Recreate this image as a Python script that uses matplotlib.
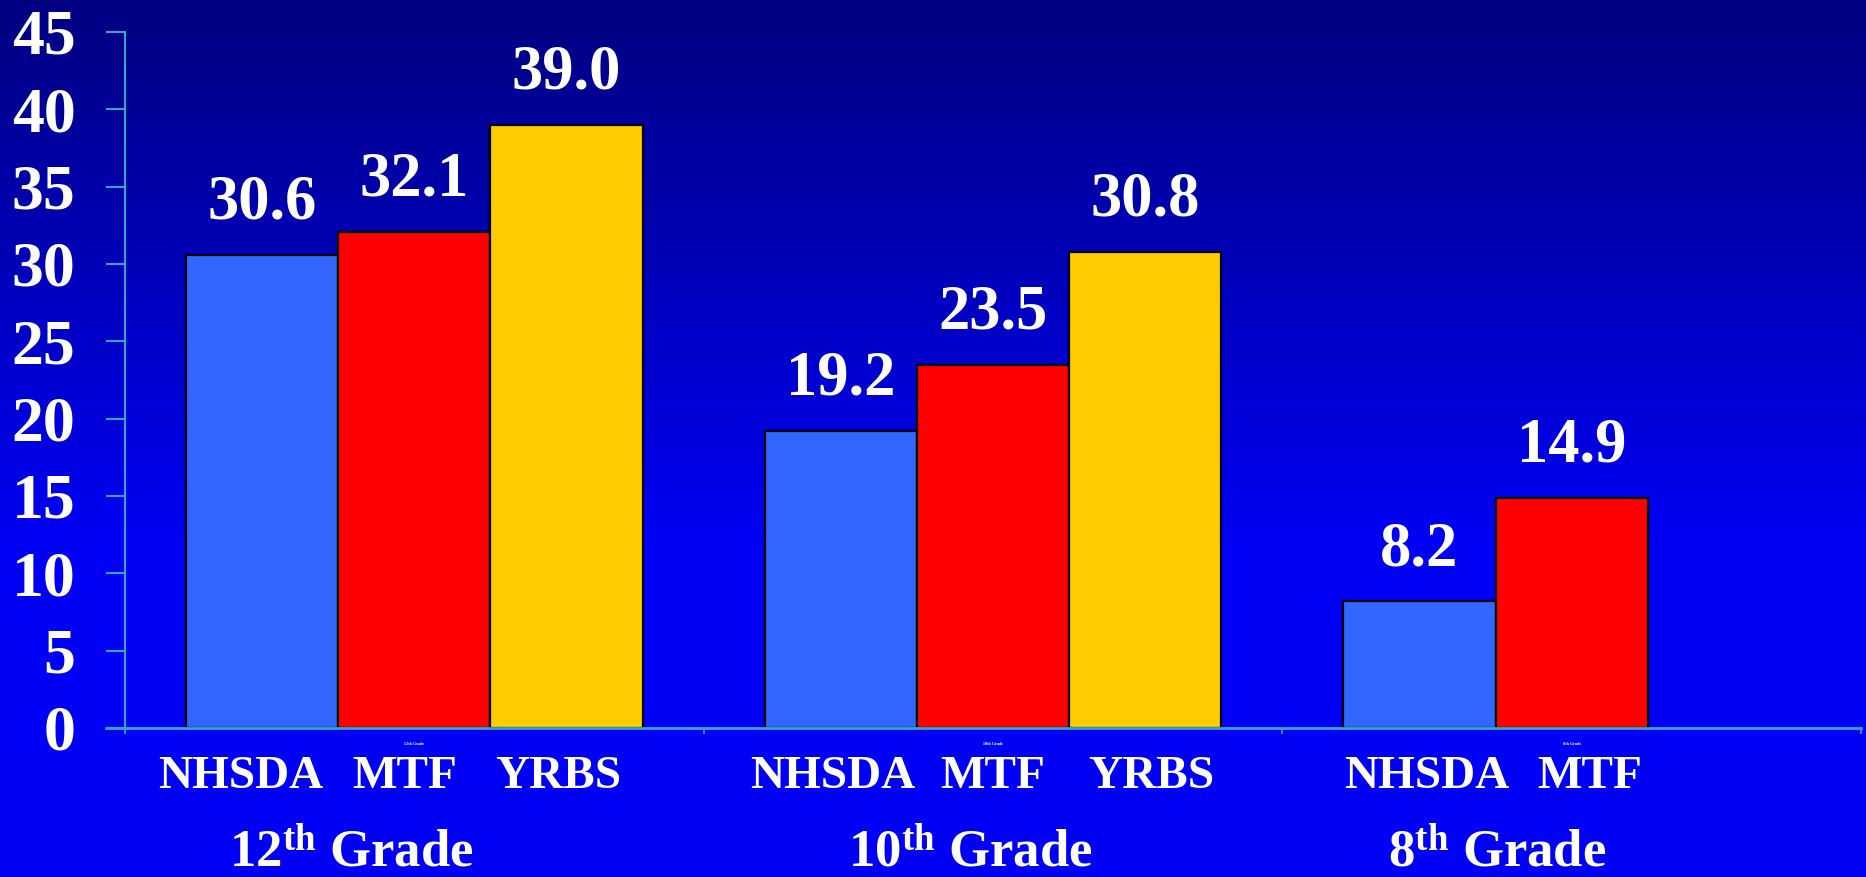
import numpy as np
import matplotlib
matplotlib.use("Agg")
import matplotlib.pyplot as plt

# ---- data ----
groups = ["12th Grade", "10th Grade", "8th Grade"]
series = ["NHSDA", "MTF", "YRBS"]
nhsda = [30.6, 19.2, 8.2]
mtf = [32.1, 23.5, 14.9]
yrbs = [39.0, 30.8, None]
yticks = [0, 5, 10, 15, 20, 25, 30, 35, 40, 45]
group_titles = [r"12$^{\mathrm{th}}$ Grade", r"10$^{\mathrm{th}}$ Grade", r"8$^{\mathrm{th}}$ Grade"]

colors = ["#3366FF", "#FF0000", "#FFCC00"]
axis_col = "#33A6C8"
# horizontal pixel nudges of the category words (series x group)
word_nudge = [[-21, -8, 7], [-10, 0, 18], [-8, 6, 0]]

plt.rcParams["font.family"] = ["Liberation Serif", "DejaVu Serif"]
plt.rcParams["font.weight"] = "bold"
plt.rcParams["mathtext.fontset"] = "custom"
plt.rcParams["mathtext.rm"] = "Liberation Serif:bold"
plt.rcParams["mathtext.bf"] = "Liberation Serif:bold"
plt.rcParams["mathtext.it"] = "Liberation Serif:bold"

W, H = 1866, 877
fig = plt.figure(figsize=(W / 100, H / 100), dpi=100)

# background gradient
bg = fig.add_axes([0, 0, 1, 1])
yy = np.arange(H)
b = np.clip(128 + 0.215 * yy, 0, 245) / 255.0
img = np.zeros((H, 2, 3))
img[:, :, 2] = b[:, None]
bg.imshow(img, aspect="auto", extent=[0, 1, 0, 1], origin="upper")
bg.set_axis_off()

ax = fig.add_axes([125 / W, 1 - 728 / H, (1861 - 125) / W, (728 - 32) / H])
ax.patch.set_alpha(0)

bw = 0.263
offs = [-bw, 0, bw]
x = np.arange(len(groups))
allvals = [nhsda, mtf, yrbs]
for si, vals in enumerate(allvals):
    for gi, v in enumerate(vals):
        if v is None:
            continue
        xp = x[gi] + offs[si]
        ax.bar(xp, v, width=bw, color=colors[si], edgecolor="black", linewidth=1.6, zorder=3)
        ax.annotate(f"{v:.1f}", (xp, v), xytext=(0, 26), textcoords="offset points",
                    ha="center", va="baseline", color="white", fontsize=45,
                    fontweight="bold", zorder=4)
        ax.annotate(series[si], (xp, 0), xycoords=("data", "data"),
                    xytext=(word_nudge[si][gi] * 0.72, -60 * 0.72), textcoords="offset points",
                    ha="center", va="baseline", color="white", fontsize=34,
                    fontweight="bold", annotation_clip=False)

# tiny in-axis group labels
for gi, g in enumerate(groups):
    ax.annotate(g, (x[gi], 0), xytext=(0, -16 * 0.72), textcoords="offset points",
                ha="center", va="center", color="white", fontsize=3,
                annotation_clip=False)

ax.set_xlim(-0.5, 2.5)
ax.set_ylim(0, 45)
ax.set_yticks(yticks)
ax.set_yticklabels([str(t) for t in yticks], fontsize=46, fontweight="bold", color="white")
ax.tick_params(axis="y", direction="out", length=13.7, width=1.5, color=axis_col, pad=22)
ax.set_xticks([-0.5, 0.5, 1.5, 2.5])
ax.set_xticklabels([])
ax.tick_params(axis="x", direction="out", length=4, width=1.2, color=axis_col)
for s in ["top", "right"]:
    ax.spines[s].set_visible(False)
ax.spines["left"].set_color(axis_col)
ax.spines["left"].set_linewidth(1.5)
ax.spines["bottom"].set_color(axis_col)
ax.spines["bottom"].set_linewidth(2)
ax.spines["bottom"].set_zorder(5)

ax.plot([-0.5 - 19 / (1736 / 3), -0.5], [0, 0], color=axis_col, lw=2, clip_on=False, zorder=5)

# group titles
title_x = [351, 970, 1497]
for t, xc in zip(group_titles, title_x):
    fig.text(xc / W, 1 - 866 / H, t, ha="center", va="baseline", color="white",
             fontsize=38, fontweight="bold")

fig.savefig("out.png", dpi=100)
